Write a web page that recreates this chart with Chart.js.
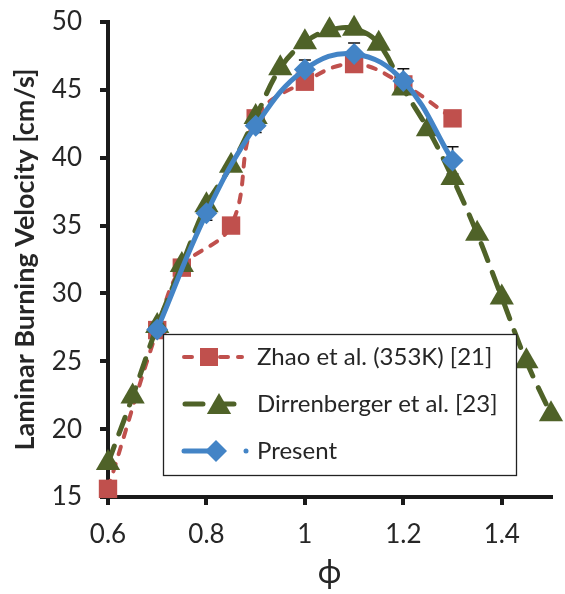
<!DOCTYPE html>
<html>
<head>
<meta charset="utf-8">
<script src="https://cdn.jsdelivr.net/npm/chart.js@4.4.1/dist/chart.umd.min.js"></script>
<style>
  html, body { margin: 0; padding: 0; background: #fff; }
</style>
</head>
<body>
<canvas id="burnChart" width="565" height="594"></canvas>
<script>
// equivalence ratio / burning velocity readings
let phiZhao = [0.6, 0.7, 0.75, 0.85, 0.9, 1.0, 1.1, 1.2, 1.3];
let suZhao = [15.6, 27.3, 31.9, 35.0, 42.9, 45.6, 46.9, 45.4, 42.9];

let phiDirr = [0.6, 0.65, 0.7, 0.75, 0.8, 0.85, 0.9, 0.95, 1.0, 1.05, 1.1, 1.15, 1.2, 1.25, 1.3, 1.35, 1.4, 1.45, 1.5];
let suDirr = [17.5, 22.4, 27.6, 32.1, 36.5, 39.4, 43.0, 46.6, 48.5, 49.4, 49.5, 48.4, 45.1, 42.1, 38.5, 34.4, 29.7, 25.0, 21.1];

let phiPresent = [0.7, 0.8, 0.9, 1.0, 1.1, 1.2, 1.3];
let suPresent = [27.35, 35.9, 42.35, 46.5, 47.65, 45.65, 39.8];
let errPresent = [0.4, 0.5, 0.5, 0.7, 0.8, 0.9, 1.0];

let xTicks = [0.6, 0.8, 1.0, 1.2, 1.4];
let seriesNames = ['Zhao et al. (353K) [21]', 'Dirrenberger et al. [23]', 'Present'];

const RED = '#C0504D';
const GREEN = '#4F6228';
const BLUE = '#4384C6';
const INK = '#262626';
const FONT = 'Lato';

const toXY = (xs, ys) => xs.map((x, i) => ({ x: x, y: ys[i] }));

function square(ctx, x, y, side, color) {
  ctx.fillStyle = color;
  ctx.fillRect(x - side / 2, y - side / 2, side, side);
}
function triangle(ctx, x, y, r, color) {
  ctx.fillStyle = color;
  ctx.beginPath();
  ctx.moveTo(x, y - r);
  ctx.lineTo(x + r * 0.866, y + r / 2);
  ctx.lineTo(x - r * 0.866, y + r / 2);
  ctx.closePath();
  ctx.fill();
}
function diamond(ctx, x, y, r, color) {
  ctx.fillStyle = color;
  ctx.beginPath();
  ctx.moveTo(x, y - r);
  ctx.lineTo(x + r, y);
  ctx.lineTo(x, y + r);
  ctx.lineTo(x - r, y);
  ctx.closePath();
  ctx.fill();
}

const errorBars = {
  id: 'errorBars',
  beforeDatasetsDraw(chart) {
    const ctx = chart.ctx;
    const xs = chart.scales.x, ys = chart.scales.y;
    ctx.save();
    ctx.strokeStyle = '#111';
    ctx.lineWidth = 1.5;
    phiPresent.forEach((p, i) => {
      const px = xs.getPixelForValue(p);
      const top = ys.getPixelForValue(suPresent[i] + errPresent[i]);
      const bot = ys.getPixelForValue(suPresent[i] - errPresent[i]);
      ctx.beginPath();
      ctx.moveTo(px, top); ctx.lineTo(px, bot);
      ctx.moveTo(px - 6, top); ctx.lineTo(px + 6, top);
      ctx.moveTo(px - 6, bot); ctx.lineTo(px + 6, bot);
      ctx.stroke();
    });
    ctx.restore();
  }
};

const legendBox = {
  id: 'legendBox',
  afterDraw(chart) {
    const ctx = chart.ctx;
    const bx = 163.5, by = 334.5, bw = 353, bh = 141;
    ctx.save();
    ctx.fillStyle = '#fff';
    ctx.fillRect(bx, by, bw, bh);
    ctx.strokeStyle = '#222';
    ctx.lineWidth = 1.3;
    ctx.strokeRect(bx, by, bw, bh);

    const rows = [357, 404, 451];
    ctx.lineCap = 'round';

    // red dashed + square
    ctx.strokeStyle = RED; ctx.lineWidth = 4; ctx.setLineDash([8, 10]);
    ctx.beginPath(); ctx.moveTo(184, rows[0]); ctx.lineTo(242, rows[0]); ctx.stroke();
    square(ctx, 209, rows[0], 18, RED);

    // green long dash + triangle
    ctx.strokeStyle = GREEN; ctx.lineWidth = 5; ctx.setLineDash([18, 13]);
    ctx.beginPath(); ctx.moveTo(185, rows[1]); ctx.lineTo(242, rows[1]); ctx.stroke();
    triangle(ctx, 219, rows[1] + 3, 14, GREEN);

    // blue solid + diamond + dot
    ctx.setLineDash([]);
    ctx.strokeStyle = BLUE; ctx.lineWidth = 5;
    ctx.beginPath(); ctx.moveTo(184, rows[2]); ctx.lineTo(215, rows[2]); ctx.stroke();
    diamond(ctx, 216, rows[2], 11, BLUE);
    ctx.fillStyle = BLUE;
    ctx.beginPath(); ctx.arc(246, rows[2], 2.5, 0, Math.PI * 2); ctx.fill();

    ctx.fillStyle = INK;
    ctx.font = '24px ' + FONT;
    ctx.textBaseline = 'middle';
    seriesNames.forEach((name, i) => ctx.fillText(name, 257, rows[i]));
    ctx.restore();
  }
};

let burnCtx = document.getElementById('burnChart').getContext('2d');
let burnChart = new Chart(burnCtx, {
  type: 'line',
  data: {
    datasets: [
      {
        label: seriesNames[2],
        data: toXY(phiPresent, suPresent),
        borderColor: BLUE,
        backgroundColor: BLUE,
        borderWidth: 5,
        tension: 0.4,
        pointStyle: 'rectRot',
        pointRadius: 11,
        pointBorderWidth: 0,
        order: 0,
        clip: false
      },
      {
        label: seriesNames[1],
        data: toXY(phiDirr, suDirr),
        borderColor: GREEN,
        backgroundColor: GREEN,
        borderWidth: 5,
        borderDash: [18, 13],
        borderCapStyle: 'round',
        tension: 0.4,
        pointStyle: 'triangle',
        pointRadius: 14,
        pointBorderWidth: 0,
        order: 1,
        clip: false
      },
      {
        label: seriesNames[0],
        data: toXY(phiZhao, suZhao),
        borderColor: RED,
        backgroundColor: RED,
        borderWidth: 4,
        borderDash: [8, 10],
        borderCapStyle: 'round',
        tension: 0.4,
        pointStyle: 'rect',
        pointRadius: 13,
        pointBorderWidth: 0,
        order: 2,
        clip: false
      }
    ]
  },
  options: {
    responsive: false,
    animation: false,
    layout: { padding: { top: 22, right: 12, left: 0, bottom: 0 } },
    plugins: {
      legend: { display: false },
      tooltip: { enabled: false }
    },
    scales: {
      x: {
        type: 'linear',
        min: 0.6,
        max: 1.5,
        afterBuildTicks: (s) => { s.ticks = xTicks.map(v => ({ value: v })); },
        afterFit: (s) => { s.height = 97; },
        border: { color: '#1a1a1a', width: 4 },
        grid: { drawOnChartArea: false, color: '#1a1a1a', lineWidth: 4, tickLength: 8 },
        ticks: {
          padding: 14,
          color: INK,
          maxRotation: 0,
          autoSkip: false,
          font: { family: FONT, size: 26 },
          callback: (v) => String(+Number(v).toFixed(1))
        },
        title: {
          display: true,
          text: 'ϕ',
          color: INK,
          font: { family: FONT, size: 32 },
          padding: { top: 0, bottom: 2 }
        }
      },
      y: {
        min: 15,
        max: 50,
        afterFit: (s) => { s.width = 108; s.paddingTop = 0; s.paddingBottom = 0; },
        border: { color: '#1a1a1a', width: 4 },
        grid: { drawOnChartArea: false, color: '#1a1a1a', lineWidth: 4, tickLength: 8 },
        ticks: {
          stepSize: 5,
          padding: 18,
          color: INK,
          font: { family: FONT, size: 26 }
        },
        title: {
          display: true,
          text: 'Laminar Burning Velocity [cm/s]',
          color: INK,
          font: { family: FONT, size: 27, weight: 'bold' },
          padding: { top: 9, bottom: 0 }
        }
      }
    }
  },
  plugins: [errorBars, legendBox]
});
</script>
</body>
</html>
